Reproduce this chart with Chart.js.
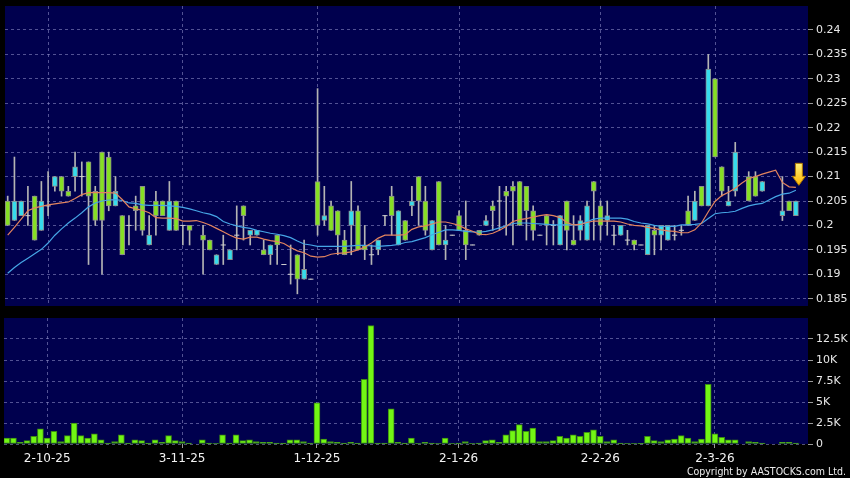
<!DOCTYPE html>
<html>
<head>
<meta charset="utf-8">
<title>Daily chart</title>
<script src="https://cdn.jsdelivr.net/npm/chart.js@4.4.1/dist/chart.umd.min.js"></script>
<style>
  html, body { margin: 0; padding: 0; background: #000; }
  #wrap { position: relative; width: 850px; height: 478px; background: #000; overflow: hidden; }
  #cPrice { position: absolute; left: 0; top: 0; }
  #cVol { position: absolute; left: 0; top: 312px; }
  #copy { position: absolute; right: 4px; top: 465px; font: 10.5px "DejaVu Sans Condensed", "DejaVu Sans", sans-serif; color: #ececec; white-space: nowrap; }
</style>
</head>
<body>
<div id="wrap">
  <canvas id="cPrice" width="850" height="312"></canvas>
  <canvas id="cVol" width="850" height="166"></canvas>
  <div id="copy">Copyright by AASTOCKS.com Ltd.</div>
</div>
<script>
// ---- data (one entry per trading day, null = no candle) ----
const xLabels   = ['2-10-25', '3-11-25', '1-12-25', '2-1-26', '2-2-26', '2-3-26'];
const xLabelIdx = [6, 26, 46, 67, 88, 105];
const priceTicks = [0.185, 0.19, 0.195, 0.2, 0.205, 0.21, 0.215, 0.22, 0.225, 0.23, 0.235, 0.24];
const volTicks   = [0, 2.5, 5, 7.5, 10, 12.5];

const openP = [
  .205,.201,.202,.202,.206,.199,.204,.208,.210,.207,
  .210,.210,.213,.207,.215,.214,.204,.202,.200,.204,
  .208,.196,.205,.205,.199,.205,.200,.200,null,.198,
  .197,.192,.196,.193,.198,.204,.198,.198,.195,.194,
  .198,.192,.190,.194,.189,.189,.209,.201,.204,.203,
  .197,.200,.203,.196,.194,.195,.202,.206,.196,.201,
  .204,.210,.205,.195,.209,.196,.198,.202,.199,.196,
  .199,.200,.204,.205,.207,.208,.209,.208,.203,.198,
  .202,.200,.196,.205,.197,.199,.197,.209,.204,.201,
  .198,.198,.197,.197,.196,.194,.199,.198,.197,.198,
  .199,.203,.201,.208,.204,.230,.212,.204,.207,null,
  .210,.210,.207,null,null,.202,.205,.202
];
const highP = [
  .206,.214,.205,.208,.206,.209,.211,.210,.210,.208,
  .215,.213,.213,.208,.215,.215,.210,.202,.202,.206,
  .208,.202,.207,.205,.209,.205,.200,.200,null,.200,
  .197,.194,.198,.195,.204,.204,.199,.199,.197,.196,
  .198,.192,.196,.194,.197,.189,.228,.208,.205,.203,
  .199,.209,.204,.200,.196,.197,.202,.208,.203,.201,
  .208,.210,.208,.201,.209,.200,.198,.203,.205,.196,
  .199,.202,.205,.208,.208,.209,.209,.208,.204,.198,
  .202,.201,.202,.205,.202,.202,.205,.209,.205,.205,
  .200,.200,.199,.197,.196,.200,.200,.200,.200,.200,
  .200,.206,.207,.208,.235,.230,.212,.208,.217,null,
  .211,.211,.209,null,null,.210,.205,.205
];
const lowP = [
  .200,.201,.202,.200,.197,.199,.202,.207,.206,.206,
  .207,.206,.192,.200,.190,.203,.204,.194,.196,.199,
  .198,.196,.198,.202,.199,.199,.196,.196,null,.190,
  .195,.192,.192,.193,.195,.197,.196,.198,.194,.192,
  .192,.192,.188,.186,.189,.189,.198,.200,.199,.194,
  .194,.194,.195,.193,.192,.194,.200,.198,.196,.197,
  .202,.200,.198,.195,.196,.193,.198,.199,.193,.196,
  .198,.200,.199,.199,.198,.196,.200,.197,.197,.198,
  .196,.196,.196,.195,.196,.197,.197,.197,.197,.198,
  .196,.198,.196,.195,.196,.194,.194,.195,.197,.197,
  .198,.200,.201,.204,.204,.214,.206,.204,.206,null,
  .205,.206,.207,null,null,.201,.203,.202
];
const closeP = [
  .200,.205,.205,.202,.197,.205,.204,.210,.207,.206,
  .212,.210,.206,.201,.201,.204,.207,.194,.200,.203,
  .199,.198,.202,.202,.205,.199,.200,.199,null,.197,
  .195,.194,.196,.195,.198,.202,.199,.199,.194,.196,
  .196,.192,.190,.189,.191,.189,.200,.202,.199,.198,
  .194,.203,.195,.195,.194,.197,.202,.202,.203,.197,
  .205,.205,.199,.201,.196,.197,.198,.199,.196,.196,
  .198,.201,.203,.205,.206,.207,.200,.203,.199,.198,
  .200,.200,.202,.199,.196,.201,.204,.207,.200,.202,
  .198,.200,.197,.196,.196,.200,.198,.200,.200,.198,
  .199,.200,.205,.204,.232,.214,.207,.205,.215,null,
  .205,.206,.209,null,null,.203,.203,.205
];
// volume in thousands of shares
const volK = [
  0.7,0.7,0.2,0.4,0.9,1.8,0.7,1.5,0.3,1.0,
  2.5,1.0,0.7,1.2,0.5,0.1,0.3,1.1,0.1,0.5,
  0.4,0.1,0.5,0.2,1.0,0.4,0.3,0.1,null,0.5,
  0.1,0.05,1.1,0.1,1.1,0.4,0.5,0.3,0.2,0.2,
  0.1,0.1,0.5,0.5,0.3,0.1,4.9,0.6,0.3,0.2,
  0.1,0.2,0.1,7.7,14.1,0.1,0.1,4.2,0.2,0.1,
  0.7,0.05,0.2,0.1,0.05,0.7,0.05,0.1,0.3,0.05,
  0.1,0.4,0.5,0.2,1.1,1.6,2.3,1.5,1.9,0.3,
  0.3,0.4,0.9,0.7,1.1,0.9,1.4,1.7,0.9,0.3,
  0.5,0.1,0.05,0.05,0.02,0.9,0.4,0.3,0.5,0.6,
  1.0,0.7,0.3,0.6,7.1,1.2,0.8,0.5,0.5,null,
  0.3,0.2,0.1,null,null,0.2,0.2,0.1
];
// short (orange) and long (blue) moving averages as drawn
const maShort = [
  .1980,.1996,.2013,.2030,.2036,.2039,.2042,.2044,.2046,.2048,
  .2055,.2063,.2067,.2067,.2067,.2067,.2066,.2053,.2038,.2034,
  .2031,.2026,.2016,.2015,.2015,.2014,.2009,.2009,.2010,.2006,
  .2001,.1994,.1987,.1980,.1974,.1972,.1976,.1976,.1972,.1969,
  .1967,.1963,.1955,.1948,.1944,.1937,.1935,.1936,.1941,.1943,
  .1944,.1946,.1950,.1956,.1964,.1974,.1980,.1980,.1980,.1981,
  .1992,.1997,.1999,.2003,.2007,.2007,.2004,.2000,.1993,.1988,
  .1982,.1981,.1984,.1990,.1998,.2008,.2012,.2014,.2017,.2020,
  .2022,.2020,.2016,.2006,.2001,.2002,.2006,.2009,.2009,.2009,
  .2009,.2007,.2003,.2000,.1999,.1996,.1994,.1991,.1989,.1988,
  .1985,.1985,.1991,.2005,.2028,.2049,.2061,.2068,.2076,.2087,
  .2096,.2100,.2105,.2109,.2113,.2088,.2079,.2078
];
const maLong = [
  .1902,.1914,.1924,.1933,.1942,.1951,.1964,.1980,.1993,.2005,
  .2015,.2026,.2038,.2046,.2050,.2052,.2053,.2051,.2046,.2045,
  .2042,.2041,.2041,.2041,.2040,.2039,.2037,.2034,.2030,.2026,
  .2023,.2018,.2008,.2003,.1999,.1996,.1994,.1990,.1987,.1984,
  .1982,.1979,.1975,.1968,.1962,.1960,.1957,.1957,.1957,.1957,
  .1957,.1958,.1959,.1959,.1958,.1957,.1958,.1959,.1961,.1965,
  .1967,.1971,.1975,.1981,.1986,.1991,.1991,.1990,.1988,.1987,
  .1986,.1988,.1991,.1995,.1999,.2004,.2005,.2005,.2004,.2003,
  .2002,.2001,.2001,.2001,.2001,.2002,.2008,.2013,.2015,.2015,
  .2015,.2015,.2013,.2008,.2005,.2003,.2000,.1998,.1998,.1998,
  .2001,.2001,.2002,.2004,.2014,.2024,.2026,.2027,.2029,.2035,
  .2040,.2043,.2045,.2052,.2059,.2064,.2066,.2072
];

// ---- colours ----
const COL = {
  panel: '#00004e',
  grid: 'rgba(150,150,205,0.55)',
  text: '#e8e8e8',
  up: '#36dcec',
  down: '#86e024',
  bodyEdge: '#8c8c8c',
  wick: '#b4b4b4',
  doji: '#cfcfcf',
  vol: '#72f614',
  volEdge: '#3c8c12',
  maShort: '#e3845e',
  maLong: '#46a6e6',
};

Chart.defaults.font.family = '"DejaVu Sans", sans-serif';
Chart.defaults.font.size = 11;
Chart.defaults.color = COL.text;

const X_MIN = -0.4, X_MAX = 118.8;

// paint navy plot panels
const panelBg = {
  id: 'panelBg',
  beforeDraw(chart) {
    const { ctx, chartArea: a } = chart;
    ctx.save();
    ctx.fillStyle = COL.panel;
    ctx.fillRect(a.left, a.top, a.right - a.left, a.bottom - a.top);
    ctx.restore();
  }
};

// yellow marker arrow above the latest moving-average value
const lastArrow = {
  id: 'lastArrow',
  afterDatasetsDraw(chart) {
    const { ctx, scales: { x, y } } = chart;
    const last = maShort.length - 1;
    const cx = x.getPixelForValue(last) + 3;
    const tip = y.getPixelForValue(maShort[last]) - 2;
    const top = tip - 22;
    ctx.save();
    const g = ctx.createLinearGradient(0, top, 0, tip);
    g.addColorStop(0, '#fff27a');
    g.addColorStop(1, '#ffb400');
    ctx.beginPath();
    ctx.moveTo(cx - 3.5, top);
    ctx.lineTo(cx + 3.5, top);
    ctx.lineTo(cx + 3.5, tip - 9);
    ctx.lineTo(cx + 6.5, tip - 9);
    ctx.lineTo(cx, tip);
    ctx.lineTo(cx - 6.5, tip - 9);
    ctx.lineTo(cx - 3.5, tip - 9);
    ctx.closePath();
    ctx.fillStyle = g;
    ctx.fill();
    ctx.strokeStyle = '#b07800';
    ctx.lineWidth = 1;
    ctx.stroke();
    ctx.restore();
  }
};

// ---- build candle pieces ----
const wickPts = [], upPts = [], downPts = [], dojiPts = [];
openP.forEach((o, i) => {
  if (o === null) return;
  const c = closeP[i];
  wickPts.push({ x: i, y: [lowP[i], highP[i]] });
  if (c > o) upPts.push({ x: i, y: [o, c] });
  else if (c < o) downPts.push({ x: i, y: [c, o] });
  else dojiPts.push({ x: i, y: c });
});
const volPts = [];
volK.forEach((v, i) => { if (v !== null) volPts.push({ x: i, y: v }); });

function xScale(showLabels) {
  return {
    type: 'linear',
    min: X_MIN,
    max: X_MAX,
    offset: false,
    afterBuildTicks: s => { s.ticks = xLabelIdx.map(v => ({ value: v })); },
    afterFit: s => { s.height = showLabels ? 34 : 0; s.paddingLeft = 0; s.paddingRight = 0; },
    grid: {
      offset: false,
      color: COL.grid,
      drawTicks: showLabels,
      tickLength: 4,
      tickColor: '#9a9a9a',
    },
    border: { display: false, dash: [3, 3] },
    ticks: {
      display: showLabels,
      autoSkip: false,
      maxRotation: 0,
      padding: 4,
      font: { size: 12 },
      color: '#f2f2f2',
      callback: (v, i) => xLabels[i],
    },
  };
}

function yScale(min, max, tickVals, fmt) {
  return {
    position: 'right',
    min: min,
    max: max,
    afterBuildTicks: s => { s.ticks = tickVals.map(v => ({ value: v })); },
    afterFit: s => { s.width = 42; s.paddingTop = 0; s.paddingBottom = 0; },
    grid: { color: COL.grid, tickLength: 5, tickColor: '#9a9a9a' },
    border: { display: false, dash: [3, 3] },
    ticks: { padding: 3, callback: fmt },
  };
}

// ---- price panel ----
new Chart(document.getElementById('cPrice'), {
  type: 'bar',
  data: {
    datasets: [
      {
        type: 'line', data: maShort.map((v, i) => ({ x: i, y: v })),
        borderColor: COL.maShort, borderWidth: 1.2, pointRadius: 0, tension: 0, order: 0,
      },
      {
        type: 'line', data: maLong.map((v, i) => ({ x: i, y: v })),
        borderColor: COL.maLong, borderWidth: 1.2, pointRadius: 0, tension: 0, order: 1,
      },
      {
        type: 'scatter', data: dojiPts, pointStyle: 'line', pointRadius: 2.6,
        pointBorderColor: COL.doji, pointBorderWidth: 1, order: 2,
      },
      {
        data: upPts, backgroundColor: COL.up, borderColor: COL.bodyEdge, borderWidth: 1,
        borderSkipped: false, barThickness: 5, grouped: false, order: 3,
      },
      {
        data: downPts, backgroundColor: COL.down, borderColor: COL.bodyEdge, borderWidth: 1,
        borderSkipped: false, barThickness: 5, grouped: false, order: 3,
      },
      {
        data: wickPts, backgroundColor: COL.wick, borderWidth: 0,
        barThickness: 1, grouped: false, order: 4,
      },
    ]
  },
  options: {
    responsive: false,
    animation: false,
    devicePixelRatio: 1,
    layout: { padding: { left: 4, top: 6, right: 0, bottom: 6 } },
    plugins: { legend: { display: false }, tooltip: { enabled: false } },
    scales: {
      x: xScale(false),
      y: yScale(0.18351, 0.24491, priceTicks, v => String(v)),
    }
  },
  plugins: [panelBg, lastArrow]
});

// ---- volume panel ----
new Chart(document.getElementById('cVol'), {
  type: 'bar',
  data: {
    datasets: [{
      data: volPts, backgroundColor: COL.vol, borderColor: COL.volEdge, borderWidth: 1,
      borderSkipped: false, barThickness: 6, grouped: false,
    }]
  },
  options: {
    responsive: false,
    animation: false,
    devicePixelRatio: 1,
    layout: { padding: { left: 4, top: 6, right: 0, bottom: 0 } },
    plugins: { legend: { display: false }, tooltip: { enabled: false } },
    scales: {
      x: xScale(true),
      y: yScale(0, 15, volTicks, v => (v === 0 ? '0' : v + 'K')),
    }
  },
  plugins: [panelBg]
});
</script>
</body>
</html>
